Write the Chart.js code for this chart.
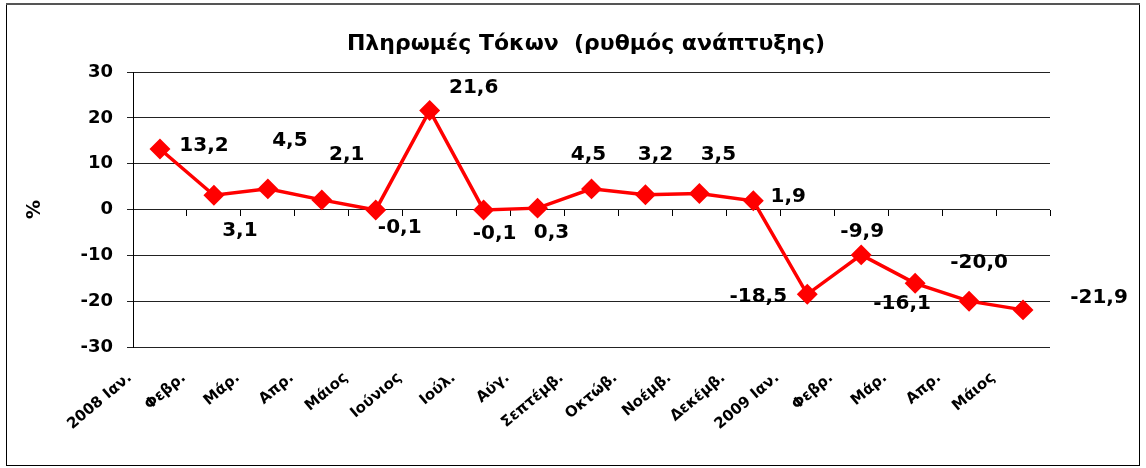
<!DOCTYPE html>
<html>
<head>
<meta charset="utf-8">
<script src="https://cdn.jsdelivr.net/npm/chart.js@4"></script>
<style>
  html, body { margin: 0; padding: 0; background: #fff; }
  #wrap { width: 1146px; height: 468px; }
</style>
</head>
<body>
<div id="wrap"><canvas id="myChart" width="1146" height="468"></canvas></div>
<script>
// months as printed on the axis
var months = ["2008 Ιαν.", "Φεβρ.", "Μάρ.", "Απρ.", "Μάιος", "Ιούνιος", "Ιούλ.", "Αύγ.", "Σεπτέμβ.",
              "Οκτώβ.", "Νοέμβ.", "Δεκέμβ.", "2009 Ιαν.", "Φεβρ.", "Μάρ.", "Απρ.", "Μάιος"];
var growth = [13.2, 3.1, 4.5, 2.1, -0.1, 21.6, -0.1, 0.3, 4.5, 3.2, 3.5, 1.9, -18.5, -9.9, -16.1, -20.0, -21.9];
var yTicks = [-30, -20, -10, 0, 10, 20, 30];
var chartTitle = 'Πληρωμές Τόκων  (ρυθμός ανάπτυξης)';

// where each value label sits relative to its marker (px)
var labelDx = [44, 26, 22, 25, 24, 44, 11, 14, -3, 10, 19, 35, -49, 1, -13, 10, 76];
var labelDy = [-3, 36, -48, -45, 18, -23, 24, 25, -34, -40, -39, -4, 3, -23, 21, -38, -12];

var frame = {
    id: 'frame',
    beforeDraw: function(chart){
        var c = chart.ctx;
        c.save();
        c.fillStyle = '#fff';
        c.fillRect(0, 0, chart.width, chart.height);
        c.strokeStyle = '#000';
        c.lineWidth = 1;
        c.strokeRect(6.5, 4.5, 1133, 461);
        c.strokeStyle = '#555';
        c.lineWidth = 2;
        c.beginPath(); c.moveTo(6, 4); c.lineTo(1140, 4); c.stroke();
        c.restore();
    },
    afterDraw: function(chart){
        // title centred over the whole frame, like the original
        var c = chart.ctx;
        c.save();
        c.font = 'bold 22px "DejaVu Sans"';
        c.fillStyle = '#000';
        c.textAlign = 'center';
        c.textBaseline = 'middle';
        c.fillText(chartTitle, 586, 44);
        c.restore();
    }
};

var valueLabels = {
    id: 'valueLabels',
    afterDatasetsDraw: function(chart){
        var c = chart.ctx;
        var meta = chart.getDatasetMeta(0);
        c.save();
        c.font = 'bold 20px "DejaVu Sans"';
        c.fillStyle = '#000';
        c.textAlign = 'center';
        c.textBaseline = 'middle';
        meta.data.forEach(function(pt, i){
            var txt = growth[i].toFixed(1).replace('.', ',');
            c.fillText(txt, pt.x + labelDx[i], pt.y + labelDy[i]);
        });
        c.restore();
    }
};

var ctx = document.getElementById("myChart");
var myChart = new Chart(ctx, {
    type: 'line',
    data: {
        labels: months,
        datasets: [{
            label: chartTitle,
            data: growth,
            borderColor: '#ff0000',
            backgroundColor: '#ff0000',
            borderWidth: 3.5,
            pointStyle: 'rectRot',
            pointRadius: 8,
            pointHoverRadius: 8,
            tension: 0
        }]
    },
    options: {
        responsive: false,
        animation: false,
        layout: { padding: { left: 10, right: 96, top: 72, bottom: 0 } },
        plugins: {
            legend: { display: false },
            tooltip: { enabled: false },
            title: { display: false }
        },
        scales: {
            x: {
                offset: true,
                grid: { display: false },
                border: { display: false },
                ticks: {
                    color: '#000',
                    font: { family: 'DejaVu Sans', size: 15, weight: 'bold' },
                    maxRotation: 40,
                    minRotation: 40,
                    padding: 14,
                    labelOffset: -30,
                    autoSkip: false
                },
                afterFit: function(scale){ scale.height = 121; }
            },
            x2: {
                type: 'category',
                labels: months,
                position: { y: 0 },
                offset: true,
                grid: { offset: true, drawOnChartArea: false, drawTicks: true, tickLength: 6, color: '#000' },
                border: { display: false },
                ticks: { display: false },
                afterFit: function(scale){ scale.height = 0; }
            },
            y: {
                min: -30,
                max: 30,
                afterBuildTicks: function(scale){
                    scale.ticks = yTicks.map(function(v){ return { value: v }; });
                },
                grid: { color: '#222', tickLength: 6, lineWidth: 1 },
                border: { display: true, color: '#000' },
                ticks: {
                    color: '#000',
                    font: { family: 'DejaVu Sans', size: 18, weight: 'bold' },
                    padding: 14
                },
                title: {
                    display: true,
                    text: '%',
                    color: '#000',
                    font: { family: 'DejaVu Sans', size: 19, weight: 'bold' },
                    padding: { top: 14, bottom: 0 }
                },
                afterFit: function(scale){ scale.width = 123; }
            }
        }
    },
    plugins: [frame, valueLabels]
});
</script>
</body>
</html>
